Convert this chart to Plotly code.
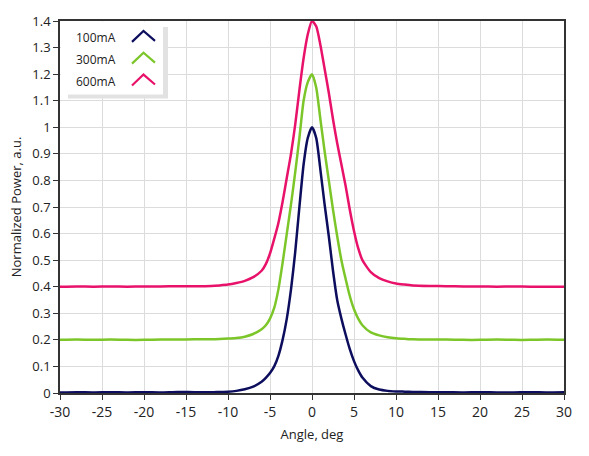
import plotly.graph_objects as go

# 각도 (deg)
angle = [-30, -28, -26, -24, -22, -20, -18, -16, -14, -12, -11, -10, -9, -8, -7, -6,
         -5.5, -5, -4.5, -4, -3.5, -3, -2.5, -2, -1.5, -1, -0.5, 0, 0.5, 1, 1.5, 2,
         2.5, 3, 3.5, 4, 4.5, 5, 5.5, 6, 7, 8, 9, 10, 11, 12, 14, 16, 18, 20, 22,
         24, 26, 28, 30]

power_100mA = [0.002, 0.003, 0.002, 0.003, 0.002, 0.003, 0.002, 0.004, 0.003, 0.003,
               0.004, 0.005, 0.008, 0.014, 0.024, 0.042, 0.057, 0.075, 0.10, 0.14,
               0.20, 0.28, 0.39, 0.53, 0.70, 0.86, 0.96, 1.0, 0.96, 0.84, 0.71, 0.59,
               0.46, 0.35, 0.28, 0.22, 0.165, 0.12, 0.085, 0.058, 0.026, 0.013, 0.008,
               0.006, 0.005, 0.004, 0.003, 0.003, 0.002, 0.003, 0.002, 0.002, 0.003,
               0.002, 0.003]

power_300mA = [0.200, 0.201, 0.200, 0.201, 0.200, 0.200, 0.201, 0.201, 0.202, 0.202,
               0.203, 0.205, 0.207, 0.212, 0.222, 0.240, 0.255, 0.280, 0.320, 0.390,
               0.490, 0.600, 0.710, 0.830, 0.960, 1.100, 1.170, 1.200, 1.150, 1.030,
               0.910, 0.800, 0.690, 0.590, 0.500, 0.430, 0.365, 0.315, 0.280, 0.255,
               0.228, 0.217, 0.210, 0.206, 0.204, 0.202, 0.201, 0.201, 0.200, 0.200,
               0.201, 0.200, 0.200, 0.201, 0.200]

power_600mA = [0.400, 0.401, 0.400, 0.401, 0.400, 0.401, 0.401, 0.402, 0.402, 0.403,
               0.405, 0.408, 0.414, 0.422, 0.436, 0.460, 0.485, 0.525, 0.580, 0.640,
               0.720, 0.810, 0.900, 1.010, 1.140, 1.260, 1.350, 1.400, 1.380, 1.310,
               1.220, 1.130, 1.030, 0.940, 0.860, 0.780, 0.690, 0.610, 0.545, 0.500,
               0.455, 0.432, 0.420, 0.412, 0.408, 0.405, 0.403, 0.402, 0.401, 0.401,
               0.400, 0.401, 0.400, 0.400, 0.400]

series_names = ['100mA', '300mA', '600mA']
series_colors = ['#0d0d5e', '#7cc62a', '#e8126a']

x_ticks = [-30, -25, -20, -15, -10, -5, 0, 5, 10, 15, 20, 25, 30]
x_ticklabels = ['-30', '-25', '-20', '-15', '-10', '-5', '0', '5', '10', '15', '20', '25', '30']
y_ticks = [0, 0.1, 0.2, 0.3, 0.4, 0.5, 0.6, 0.7, 0.8, 0.9, 1, 1.1, 1.2, 1.3, 1.4]
y_ticklabels = ['0', '0.1', '0.2', '0.3', '0.4', '0.5', '0.6', '0.7', '0.8', '0.9',
                '1', '1.1', '1.2', '1.3', '1.4']

FONT = 'Open Sans, Noto Sans, sans-serif'
W, H = 589, 456
L, R, T, B = 60, 25, 18, 63
PW, PH = W - L - R, H - T - B


def px(x):
    # 화면 픽셀 -> paper 좌표
    return (x - L) / PW


def py(y):
    return (H - B - y) / PH


fig = go.Figure()

for name, vals, color in zip(series_names, [power_100mA, power_300mA, power_600mA], series_colors):
    fig.add_trace(go.Scatter(
        x=angle, y=vals, name=name, mode='lines',
        line=dict(color=color, width=2.5, shape='spline', smoothing=0.6),
        showlegend=False,
    ))

# 범례 (그림자 박스 + 텍스트 + 꺾쇠 모양)
shapes = [
    dict(type='rect', xref='paper', yref='paper', x0=px(68), x1=px(168), y0=py(96), y1=py(24),
         fillcolor='#e2e2e2', line=dict(width=0), layer='above'),
    dict(type='rect', xref='paper', yref='paper', x0=px(61), x1=px(163), y0=py(92), y1=py(18.5),
         fillcolor='white', line=dict(width=0), layer='above'),
]
annotations = []
for i, (name, color) in enumerate(zip(series_names, series_colors)):
    yc = 35 + i * 22
    annotations.append(dict(
        x=px(118), y=py(yc), xref='paper', yref='paper', text=name, showarrow=False,
        xanchor='right', yanchor='middle', font=dict(family=FONT, size=12, color='#222222'),
    ))
    path = 'M {} {} L {} {} L {} {}'.format(px(132), py(yc + 4), px(143.5), py(yc - 7),
                                             px(155), py(yc + 3))
    shapes.append(dict(type='path', xref='paper', yref='paper', path=path,
                       line=dict(color=color, width=2.2), layer='above'))

fig.update_layout(
    width=W, height=H,
    margin=dict(l=L, r=R, t=T, b=B),
    plot_bgcolor='white', paper_bgcolor='white',
    font=dict(family=FONT, size=13, color='#222222'),
    showlegend=False,
    xaxis=dict(
        range=[-30, 30], tickvals=x_ticks, ticktext=x_ticklabels,
        showgrid=True, gridcolor='#dcdcdc', gridwidth=1, zeroline=False,
        showline=True, linecolor='#333333', linewidth=1.5, mirror=True,
        ticks='outside', ticklen=5, tickcolor='#333333', tickfont=dict(size=14),
        title=dict(text='Angle, deg', font=dict(size=13), standoff=10),
    ),
    yaxis=dict(
        range=[0, 1.4], tickvals=y_ticks, ticktext=y_ticklabels,
        showgrid=True, gridcolor='#dcdcdc', gridwidth=1, zeroline=False,
        showline=True, linecolor='#333333', linewidth=1.5, mirror=True,
        ticks='outside', ticklen=5, tickcolor='#333333',
        title=dict(text='Normalized Power, a.u.', font=dict(size=13), standoff=8),
    ),
    shapes=shapes,
    annotations=annotations,
)

# body 기본 여백 제거
fig.write_html("out.html", config={'displayModeBar': False},
               post_script="document.body.style.margin='0';")
